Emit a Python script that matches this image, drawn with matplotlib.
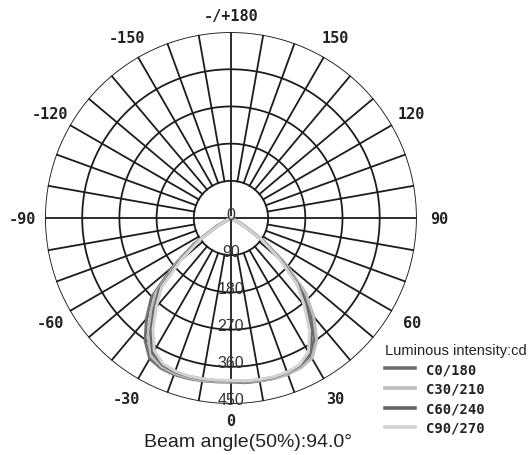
import numpy as np
import matplotlib
matplotlib.use("Agg")
import matplotlib.pyplot as plt
from matplotlib.lines import Line2D
from matplotlib.transforms import offset_copy

# ---------------- data ----------------
gamma = [0, 5, 10, 15, 20, 25, 30, 35, 40, 45, 50, 55, 60, 65, 70, 75, 80, 85, 90]

# right half (positive gamma)
c0   = [399, 400, 401, 402, 402, 399, 388, 352, 300, 245, 166, 96, 34, 5, 0, 0, 0, 0, 0]
c30  = [397, 398, 400, 402, 402, 400, 392, 362, 312, 256, 172, 100, 36, 5, 0, 0, 0, 0, 0]
c60  = [396, 397, 398, 399, 398, 394, 380, 340, 285, 232, 158, 92, 32, 4, 0, 0, 0, 0, 0]
c90  = [395, 396, 397, 398, 397, 392, 375, 332, 276, 225, 152, 88, 30, 4, 0, 0, 0, 0, 0]
# left half (negative gamma)
c180 = [397, 398, 400, 402, 403, 401, 393, 362, 318, 272, 185, 108, 40, 6, 0, 0, 0, 0, 0]
c210 = [396, 397, 399, 400, 400, 397, 386, 350, 303, 258, 175, 100, 36, 5, 0, 0, 0, 0, 0]
c240 = [394, 395, 396, 397, 396, 392, 378, 338, 290, 245, 165, 94, 33, 4, 0, 0, 0, 0, 0]
c270 = [393, 394, 395, 396, 394, 389, 371, 329, 281, 237, 158, 90, 30, 4, 0, 0, 0, 0, 0]

series_names = ["C0/180", "C30/210", "C60/240", "C90/270"]
series_colors = ["#6f6f6f", "#bdbdbd", "#666666", "#d2d2d2"]
right_halves = [c0, c30, c60, c90]
left_halves = [c180, c210, c240, c270]

ring_values = [0, 90, 180, 270, 360, 450]
angle_ticks = [-150, -120, -90, -60, -30, 0, 30, 60, 90, 120, 150, 180]
angle_labels = ["-150", "-120", "-90", "-60", "-30", "0", "30", "60", "90", "120", "150", "-/+180"]

# ---------------- figure ----------------
fig = plt.figure(figsize=(5.32, 4.56), dpi=100)
ax = fig.add_axes([0.0846, 0.1118, 0.699, 0.8158], projection="polar")
ax.set_theta_zero_location("S")
ax.set_theta_direction(1)
rmax = ring_values[-1]
ax.set_ylim(0, rmax)
ax.set_xticks([])
ax.set_yticks([])
ax.grid(False)
ax.spines["polar"].set_visible(False)
ax.patch.set_alpha(0)

gc = "#1c1c1c"
glw = 1.3
th_full = np.linspace(0, 2 * np.pi, 721)
for rv in ring_values[1:]:
    ax.plot(th_full, np.full_like(th_full, rv), color=gc, lw=glw, zorder=1)
for deg in range(0, 360, 10):
    t = np.deg2rad(deg)
    r0 = 0 if deg % 90 == 0 else ring_values[1]
    ax.plot([t, t], [r0, rmax], color=gc, lw=glw, zorder=1)

# curves
g = np.array(gamma, dtype=float)
for name, col, rh, lh in zip(series_names, series_colors, right_halves, left_halves):
    th = np.deg2rad(np.concatenate([-g[::-1], g[1:]]))
    rr = np.concatenate([np.array(lh)[::-1], np.array(rh)[1:]])
    ax.plot(th, rr, color=col, lw=2.2, zorder=3, solid_joinstyle="round")

# angle labels
mono = "DejaVu Sans Mono"
txtc = "#222222"
for a, lab in zip(angle_ticks, angle_labels):
    rl = 491 if a in (0, 180) else 505
    ax.text(np.deg2rad(a), rl, lab, ha="center", va="center", fontsize=11,
            fontweight="semibold", family=mono, color=txtc, clip_on=False)

# ring labels
tr = offset_copy(ax.transData, fig=fig, x=0, y=4, units="dots")
for rv in ring_values:
    ax.text(0, rv, str(rv), ha="center", va="center", fontsize=11.5,
            family="Liberation Sans", color="#333333", transform=tr,
            clip_on=False, zorder=4)

# legend
handles = [Line2D([], [], color=c, lw=2.6) for c in series_colors]
leg = fig.legend(handles, series_names, loc="upper left",
                 bbox_to_anchor=(375 / 532, 1 - 334 / 456), frameon=False,
                 title="Luminous intensity:cd", alignment="left",
                 prop={"family": mono, "weight": "bold", "size": 10},
                 title_fontproperties={"family": "Liberation Sans", "size": 10.5},
                 handlelength=2.2, handletextpad=0.75, labelspacing=0.4,
                 borderpad=0.2)
leg.get_title().set_color(txtc)
for t in leg.get_texts():
    t.set_color(txtc)

fig.text(248 / 532, 1 - 443 / 456, "Beam angle(50%):94.0°", ha="center", va="center",
         fontsize=14, family="Liberation Sans", color=txtc)

fig.savefig("out.png", dpi=100)
